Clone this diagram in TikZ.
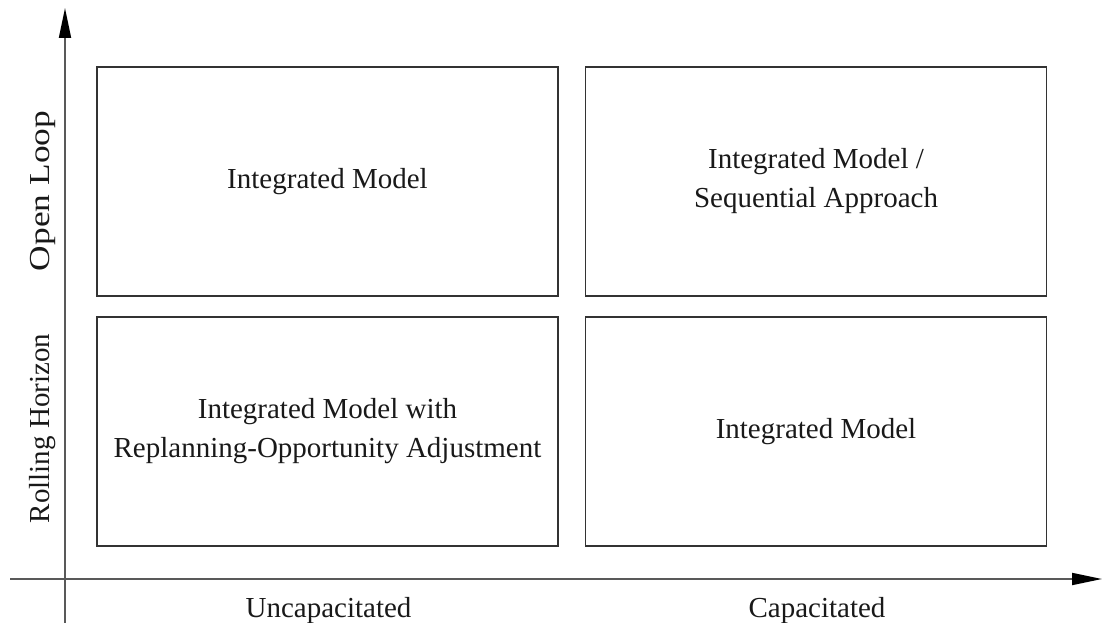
\documentclass[tikz,border=0pt]{standalone}
\usepackage{fontspec}
\setmainfont{Liberation Serif}
\usetikzlibrary{arrows.meta}
\begin{document}
\begin{tikzpicture}[x=1pt,y=-1pt,
  cell/.style={draw=black!80,line width=1.6pt,minimum width=461pt,minimum height=229pt,
    align=center,inner sep=0pt,font=\fontsize{29}{39}\selectfont,text=black!90},
  axislabel/.style={inner sep=0pt,font=\fontsize{29}{39}\selectfont,text=black!90},
  axis/.style={draw=black!65,line width=1.8pt,
    -{Triangle[length=30pt,width=12pt,color=black]}}]
  \useasboundingbox (0,0) rectangle (1105,623);

  % quadrant cells
  \node[cell] (ol-unc) at (327.5,181.5) {Integrated Model};
  \node[cell] (ol-cap) at (816,181.5) {Integrated Model /\\Sequential Approach};
  \node[cell] (rh-unc) at (327.5,431.5) {Integrated Model with\\Replanning-Opportunity Adjustment};
  \node[cell] (rh-cap) at (816,431.5) {Integrated Model};

  % axes
  \coordinate (ybot) at (65,623);
  \coordinate (ytop) at (65,8);
  \coordinate (xleft) at (10,579);
  \coordinate (xright) at (1102,579);
  \draw[axis] (ybot) -- (ytop);
  \draw[axis] (xleft) -- (xright);

  % axis labels
  \node[axislabel,rotate=90] (lab-ol) at (43,191) {\scalebox{1.22}[1]{Open Loop}};
  \node[axislabel,rotate=90] (lab-rh) at (43,428.5) {Rolling Horizon};
  \node[axislabel,anchor=base] (lab-unc) at (328.5,617) {Uncapacitated};
  \node[axislabel,anchor=base] (lab-cap) at (817,617) {Capacitated};
\end{tikzpicture}
\end{document}
